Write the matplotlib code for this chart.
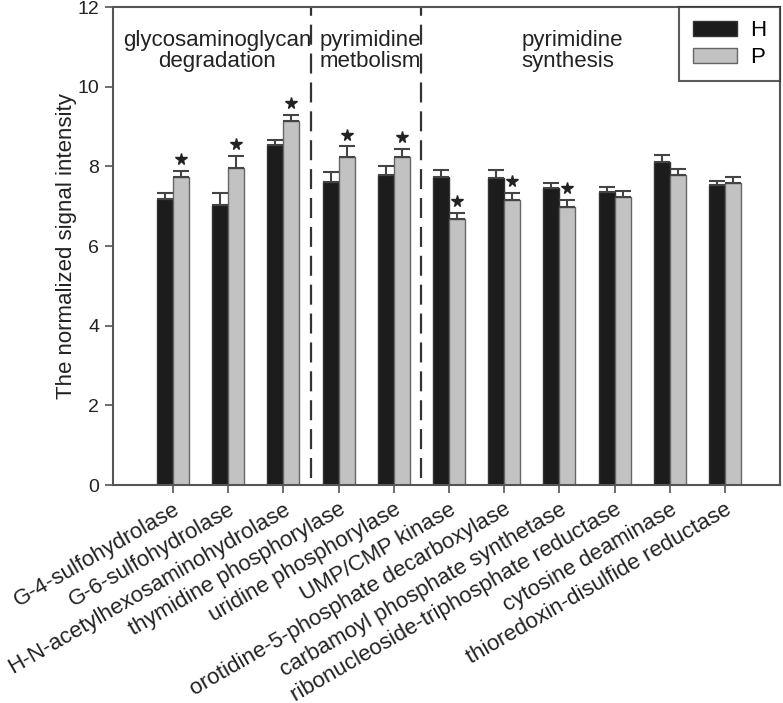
import matplotlib
matplotlib.use("Agg")
import matplotlib.pyplot as plt
import numpy as np

plt.rcParams['font.family'] = ['Liberation Sans', 'DejaVu Sans']

categories = ["G-4-sulfohydrolase", "G-6-sulfohydrolase", "H-N-acetylhexosaminohydrolase",
              "thymidine phosphorylase", "uridine phosphorylase", "UMP/CMP kinase",
              "orotidine-5-phosphate decarboxylase", "carbamoyl phosphate synthetase",
              "ribonucleoside-triphosphate reductase", "cytosine deaminase",
              "thioredoxin-disulfide reductase"]
H_vals = [7.17, 7.03, 8.53, 7.61, 7.79, 7.73, 7.72, 7.45, 7.35, 8.11, 7.53]
H_err = [0.15, 0.29, 0.14, 0.26, 0.21, 0.18, 0.19, 0.14, 0.13, 0.17, 0.10]
P_vals = [7.74, 7.97, 9.13, 8.24, 8.24, 6.67, 7.15, 6.99, 7.22, 7.78, 7.59]
P_err = [0.14, 0.30, 0.16, 0.26, 0.20, 0.17, 0.18, 0.16, 0.16, 0.16, 0.14]
significant = [True, True, True, True, True, True, True, True, False, False, False]
group_labels = ["glycosaminoglycan\ndegradation", "pyrimidine\nmetbolism", "pyrimidine\nsynthesis"]
group_bounds = [2.5, 4.5]
series = ["H", "P"]

fig = plt.figure(figsize=(7.83, 7.03), dpi=100)
ax = fig.add_axes([0.1443, 0.310, 0.8519, 0.680])

x = np.arange(len(categories))
w = 0.29
spine_c = "#555555"
ax.bar(x - w / 2, H_vals, w, color="#1c1c1c", edgecolor="#333333", linewidth=1.0, label=series[0], zorder=2)
ax.bar(x + w / 2, P_vals, w, color="#c2c2c2", edgecolor="#666666", linewidth=1.0, label=series[1], zorder=2)
ax.errorbar(x - w / 2, H_vals, yerr=[np.zeros(len(H_err)), H_err], fmt="none",
            ecolor="#444444", elinewidth=1.5, capsize=6, capthick=1.5, zorder=3)
ax.errorbar(x + w / 2, P_vals, yerr=[np.zeros(len(P_err)), P_err], fmt="none",
            ecolor="#444444", elinewidth=1.5, capsize=6, capthick=1.5, zorder=3)

sig_idx = [i for i, s in enumerate(significant) if s]
ax.plot([x[i] + w / 2 for i in sig_idx], [P_vals[i] + P_err[i] + 0.3 for i in sig_idx],
        linestyle="none", marker="*", markersize=8.5, color="#222222", zorder=4)

for b in group_bounds:
    ax.axvline(b, ymin=0.015, ymax=1.0, color="#333333", linewidth=1.6,
               linestyle=(0, (9, 4)), zorder=1)

ax.text(0.8, 11.42, group_labels[0], ha="center", va="top", fontsize=16,
        linespacing=1.0, multialignment="center", color="#222222")
ax.text(2.66, 11.42, group_labels[1], ha="left", va="top", fontsize=16,
        linespacing=1.0, multialignment="left", color="#222222")
ax.text(6.31, 11.42, group_labels[2], ha="left", va="top", fontsize=16,
        linespacing=1.0, multialignment="left", color="#222222")

ax.set_xlim(-1.09, 11.0)
ax.set_ylim(0, 12)
ax.set_yticks([0, 2, 4, 6, 8, 10, 12])
ax.set_xticks(x)
ax.set_xticklabels(categories, rotation=30, ha="right", rotation_mode="anchor", fontsize=16,
                   color="#222222")
ax.tick_params(axis="y", labelsize=14, direction="out", length=6, width=1.2, color=spine_c,
               labelcolor="#222222", pad=4)
ax.tick_params(axis="x", direction="out", length=6, width=1.2, color=spine_c, pad=4)
for s in ax.spines.values():
    s.set_color(spine_c)
    s.set_linewidth(1.5)
ax.set_ylabel("The normalized signal intensity", fontsize=16, color="#222222", labelpad=0)

leg = ax.legend(loc="upper right", fontsize=16, frameon=True, fancybox=False, borderaxespad=0,
                handlelength=2.0, handleheight=0.65, handletextpad=0.6, labelspacing=0.25,
                borderpad=0.6)
leg.get_frame().set_edgecolor("#333333")
leg.get_frame().set_linewidth(1.5)

fig.savefig("out.png", dpi=100)
